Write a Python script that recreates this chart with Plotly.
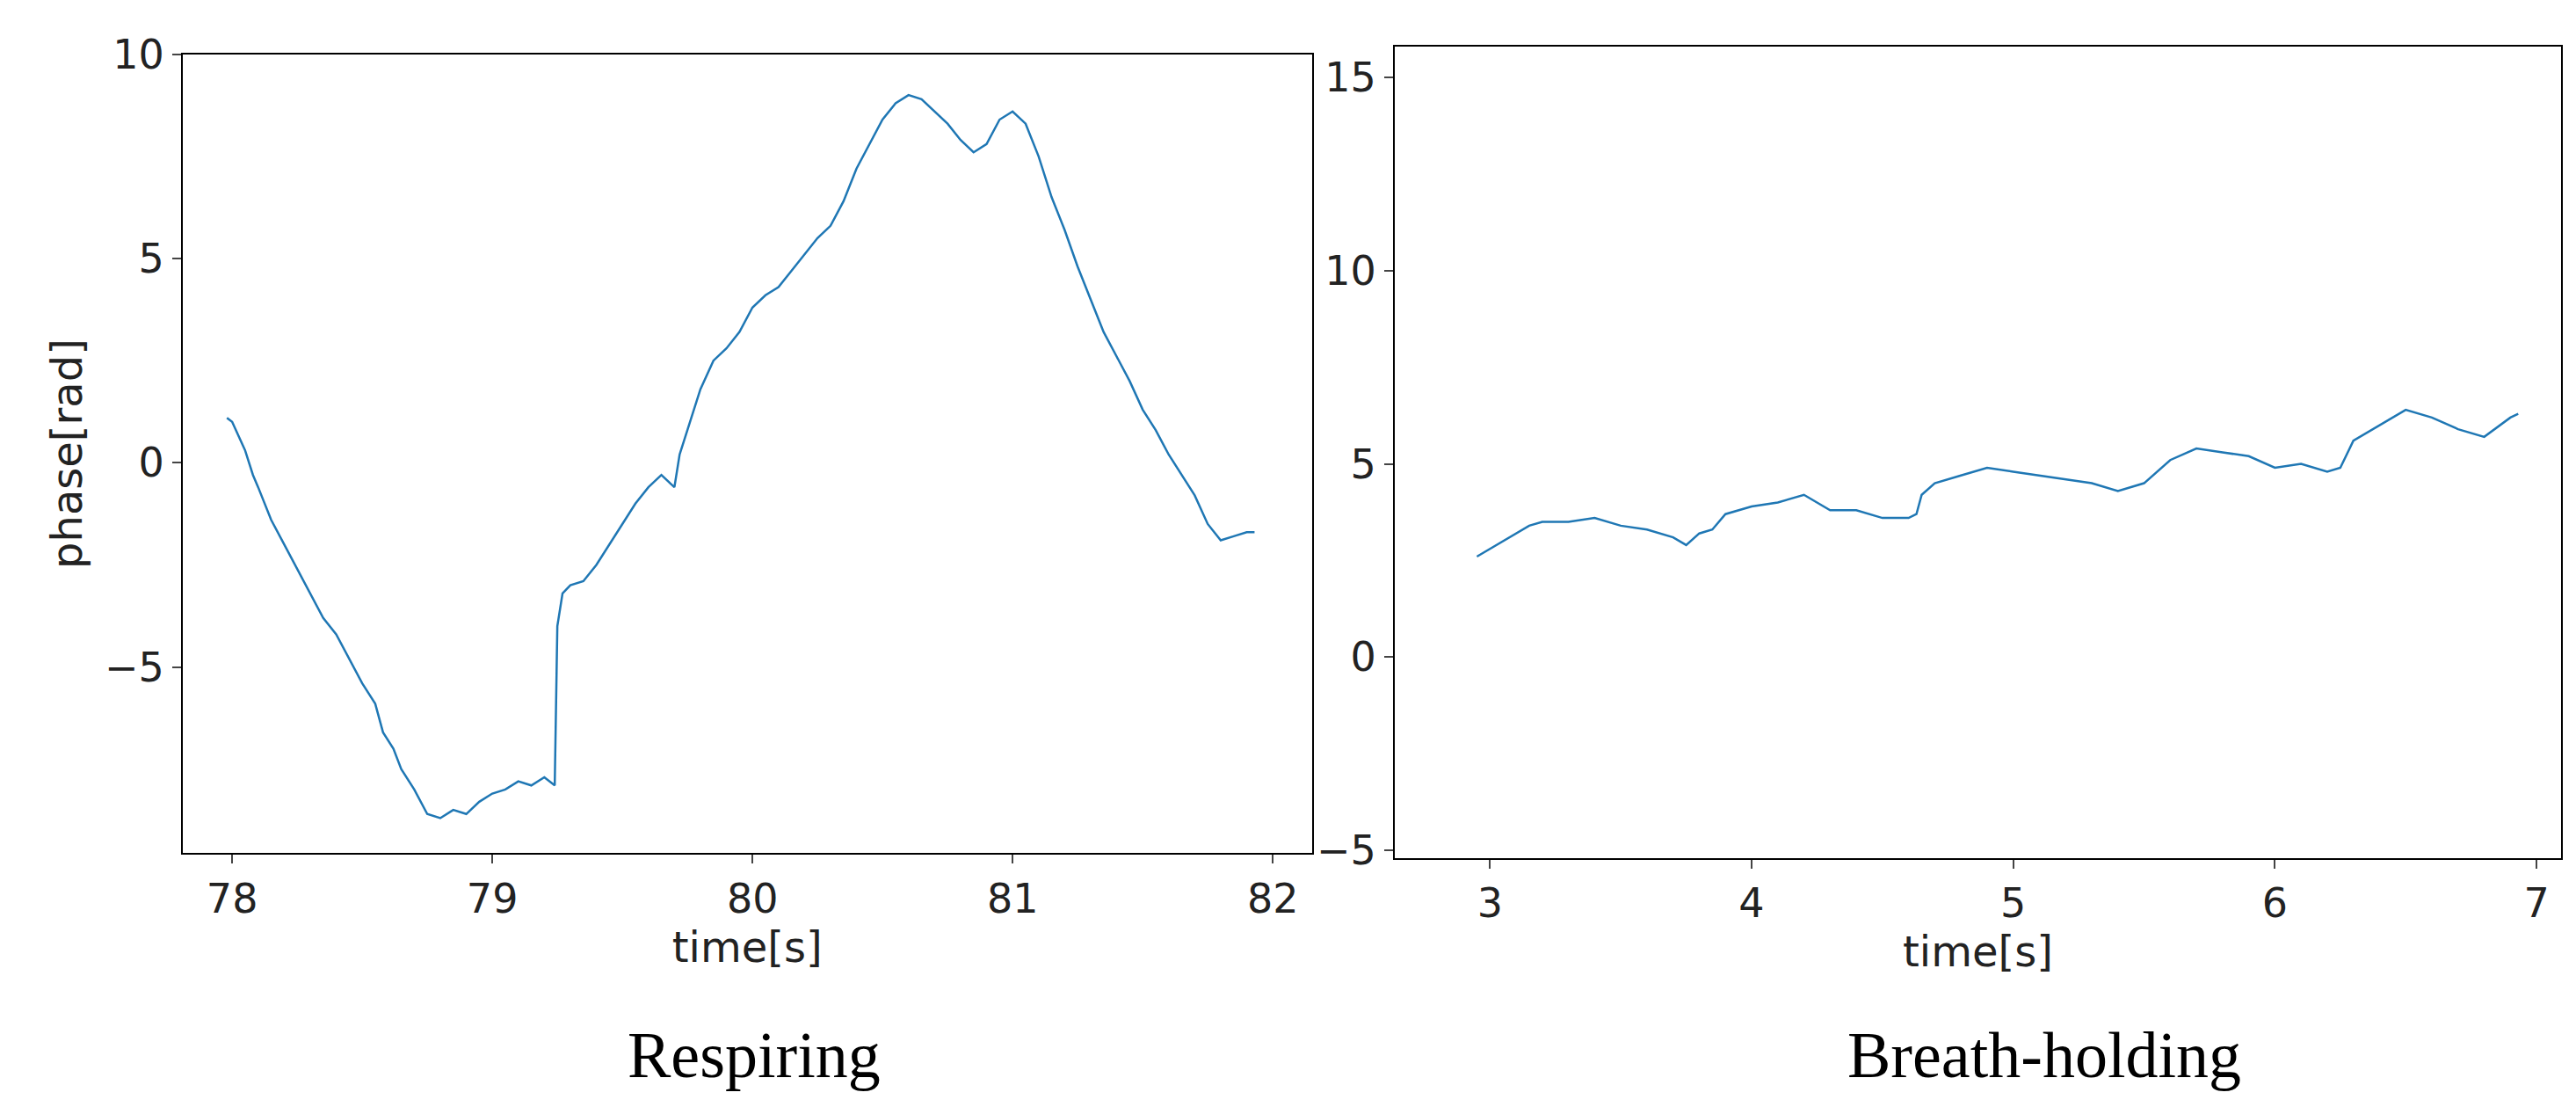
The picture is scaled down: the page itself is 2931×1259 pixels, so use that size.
import plotly.graph_objects as go

t_resp = [77.98,78.0,78.05,78.08,78.1,78.15,78.2,78.25,78.3,78.35,78.4,78.45,78.5,78.55,78.58,78.62,78.65,78.7,78.75,78.8,78.85,78.9,78.95,79.0,79.05,79.1,79.15,79.2,79.24,79.25,79.27,79.3,79.35,79.4,79.45,79.5,79.55,79.6,79.65,79.7,79.72,79.75,79.8,79.85,79.9,79.95,80.0,80.05,80.1,80.15,80.2,80.25,80.3,80.35,80.4,80.45,80.5,80.55,80.6,80.65,80.7,80.75,80.8,80.85,80.9,80.95,81.0,81.05,81.1,81.15,81.2,81.25,81.3,81.35,81.4,81.45,81.5,81.55,81.6,81.65,81.7,81.75,81.8,81.85,81.9,81.93]
y_resp = [1.1,1.0,0.3,-0.3,-0.6,-1.4,-2.0,-2.6,-3.2,-3.8,-4.2,-4.8,-5.4,-5.9,-6.6,-7.0,-7.5,-8.0,-8.6,-8.7,-8.5,-8.6,-8.3,-8.1,-8.0,-7.8,-7.9,-7.7,-7.9,-4.0,-3.2,-3.0,-2.9,-2.5,-2.0,-1.5,-1.0,-0.6,-0.3,-0.6,0.2,0.8,1.8,2.5,2.8,3.2,3.8,4.1,4.3,4.7,5.1,5.5,5.8,6.4,7.2,7.8,8.4,8.8,9.0,8.9,8.6,8.3,7.9,7.6,7.8,8.4,8.6,8.3,7.5,6.5,5.7,4.8,4.0,3.2,2.6,2.0,1.3,0.8,0.2,-0.3,-0.8,-1.5,-1.9,-1.8,-1.7,-1.7]

t_hold = [2.95,3.0,3.05,3.1,3.15,3.2,3.3,3.4,3.5,3.6,3.7,3.75,3.8,3.85,3.9,4.0,4.1,4.2,4.3,4.4,4.5,4.6,4.63,4.65,4.7,4.8,4.9,5.0,5.1,5.2,5.3,5.4,5.5,5.6,5.7,5.8,5.9,6.0,6.1,6.2,6.25,6.3,6.4,6.5,6.6,6.7,6.8,6.9,6.93]
y_hold = [2.6,2.8,3.0,3.2,3.4,3.5,3.5,3.6,3.4,3.3,3.1,2.9,3.2,3.3,3.7,3.9,4.0,4.2,3.8,3.8,3.6,3.6,3.7,4.2,4.5,4.7,4.9,4.8,4.7,4.6,4.5,4.3,4.5,5.1,5.4,5.3,5.2,4.9,5.0,4.8,4.9,5.6,6.0,6.4,6.2,5.9,5.7,6.2,6.3]

x_ticks_resp = [78, 79, 80, 81, 82]
y_ticks_resp = [-5, 0, 5, 10]
x_ticks_hold = [3, 4, 5, 6, 7]
y_ticks_hold = [-5, 0, 5, 10, 15]

line = dict(color="#1f77b4", width=2.5)
fig = go.Figure()
fig.add_trace(go.Scatter(x=t_resp, y=y_resp, mode="lines", line=line, xaxis="x", yaxis="y"))
fig.add_trace(go.Scatter(x=t_hold, y=y_hold, mode="lines", line=line, xaxis="x2", yaxis="y2"))

ax = dict(showline=True, linecolor="black", linewidth=2, mirror=True, ticks="outside",
          ticklen=10, tickwidth=2, showgrid=False, zeroline=False,
          tickfont=dict(family="DejaVu Sans", size=46, color="#222"))
tf = dict(family="DejaVu Sans", size=48, color="#222")
fig.update_layout(
    width=2931, height=1259, margin=dict(l=0, r=0, t=0, b=0),
    paper_bgcolor="white", plot_bgcolor="white", showlegend=False,
    xaxis=dict(ax, domain=[0.0682, 0.5065], range=[77.81, 82.15], tickvals=x_ticks_resp,
               title=dict(text="time[s]", font=tf, standoff=4), anchor="y"),
    yaxis=dict(ax, domain=[0.2295, 0.978], range=[-9.56, 10.0], tickvals=y_ticks_resp,
               ticktext=["\u22125", "0", "5", "10"],
               title=dict(text="phase[rad]", font=tf, standoff=10), anchor="x"),
    xaxis2=dict(ax, domain=[0.5387, 0.9915], range=[2.636, 7.094], tickvals=x_ticks_hold,
                title=dict(text="time[s]", font=tf, standoff=4), anchor="y2"),
    yaxis2=dict(ax, domain=[0.2248, 0.985], range=[-5.21, 15.8], tickvals=y_ticks_hold,
                ticktext=["\u22125", "0", "5", "10", "15"], anchor="x2"),
    annotations=[
        dict(text="Respiring", x=850/2931, y=0.005, xref="paper", yref="paper",
             xanchor="center", yanchor="bottom",
             showarrow=False, font=dict(family="Liberation Serif", size=74, color="black")),
        dict(text="Breath-holding", x=2318/2931, y=0.005, xref="paper", yref="paper",
             xanchor="center", yanchor="bottom",
             showarrow=False, font=dict(family="Liberation Serif", size=74, color="black")),
    ],
)
fig.write_html("out.html")
